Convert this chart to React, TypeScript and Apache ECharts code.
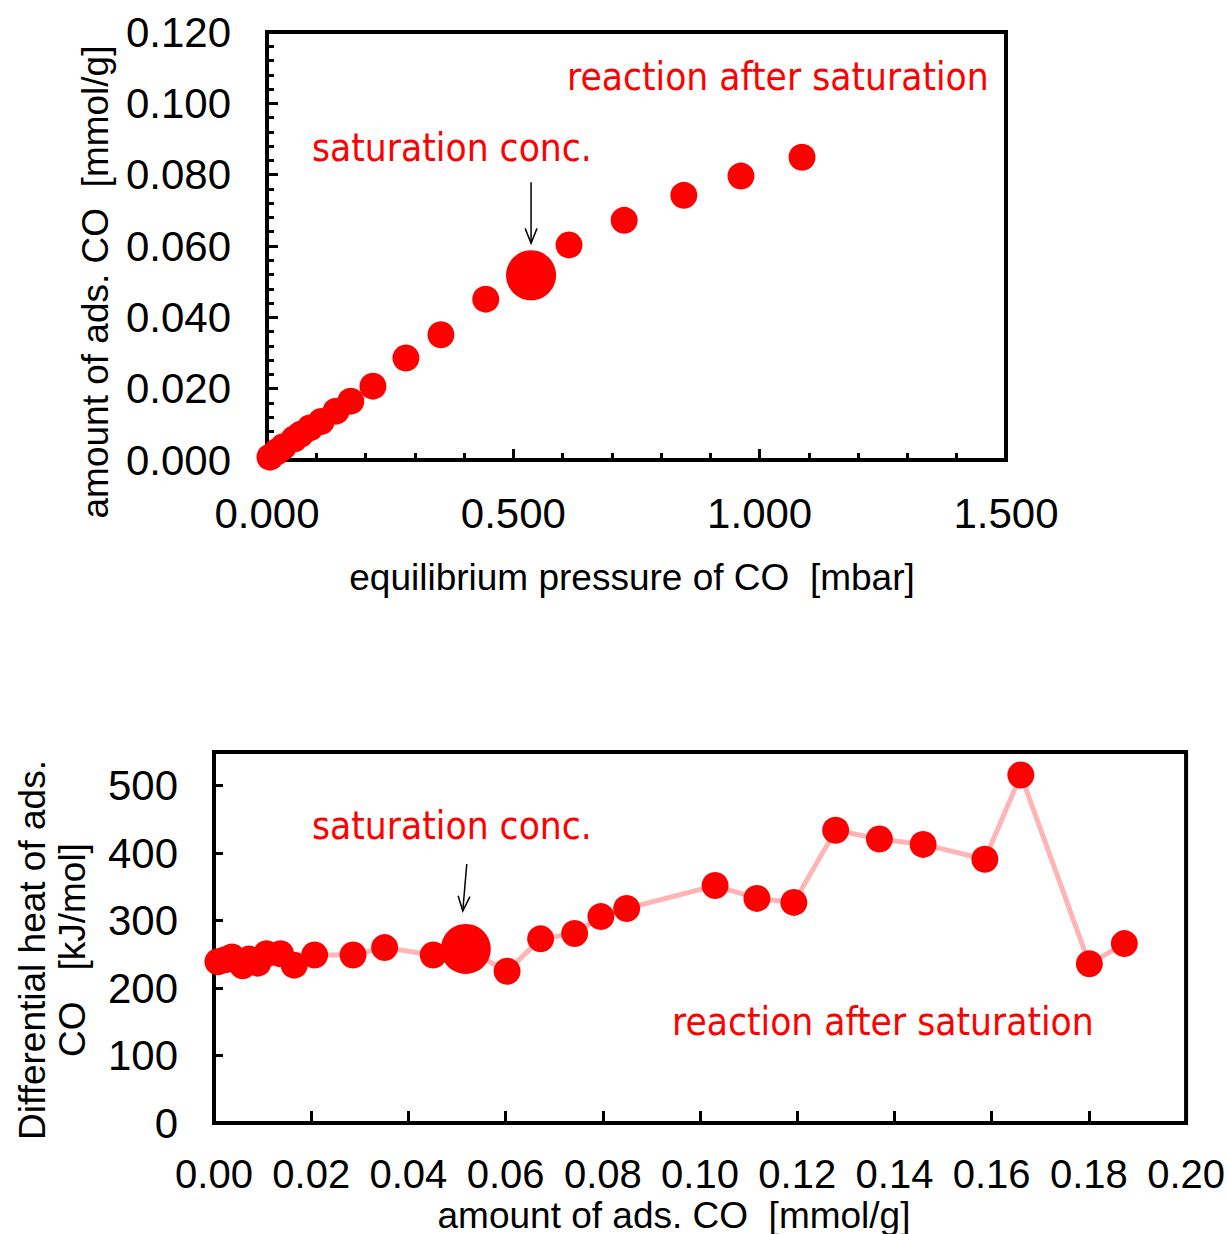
import React, { useEffect, useRef } from "react";
import * as echarts from "echarts";

// Equilibrium pressure of CO [mbar] (top chart, points up to 0.085 mmol/g)
const pressure = [0.006, 0.02, 0.033, 0.055, 0.068, 0.087, 0.11, 0.14, 0.17, 0.215, 0.282, 0.353, 0.444, 0.536, 0.613, 0.725, 0.846, 0.962, 1.086];
// Amount of adsorbed CO [mmol/g]
const adsorbed = [0.0008, 0.0023, 0.0037, 0.0059, 0.0072, 0.009, 0.0108, 0.0137, 0.0165, 0.0207, 0.0286, 0.0351, 0.0451, 0.0518, 0.0603, 0.0672, 0.0742, 0.0796, 0.0849, 0.1031, 0.1117, 0.1193, 0.1279, 0.1369, 0.1459, 0.1586, 0.166, 0.1801, 0.1873];
// Differential heat of adsorption [kJ/mol]
const heat = [239, 242, 246, 233, 243, 237, 251, 251, 234, 249, 249, 260, 249, 258, 225, 273, 281, 306, 318, 352, 333, 327, 434, 421, 413, 391, 516, 236, 266];
const saturationIndex = 13;

const topXTicks = { min: 0, max: 1.5, interval: 0.5 };
const topYTicks = { min: 0, max: 0.12, interval: 0.02 };
const botXTicks = { min: 0, max: 0.2, interval: 0.02 };
const botYTicks = { min: 0, max: 550, interval: 100 };

const FONT = "Liberation Sans, Arial, sans-serif";
const NARROW = "'Liberation Sans Narrow', 'DejaVu Sans Condensed', sans-serif";

export default function App() {
  const ref = useRef<HTMLDivElement>(null);
  useEffect(() => {
    document.body.style.margin = "0";
    const chart = echarts.init(ref.current!, undefined, { renderer: "svg" });
    const topData = pressure.map((p, i) => [p, adsorbed[i]]);
    const botData = heat.map((h, i) => [adsorbed[i], h]);
    const sizeFn = (_v: any, params: any) => (params.dataIndex === saturationIndex ? 50 : 27);
    const axisLine = { show: true, lineStyle: { color: "#000", width: 4 } };
    const labelStyle = { color: "#000", fontFamily: FONT, fontSize: 42 };
    const option: any = {
      animation: false,
      grid: [
        { left: 267, top: 32, width: 739, height: 428, show: true, borderColor: "#000", borderWidth: 4, backgroundColor: "transparent" },
        { left: 214, top: 752, width: 975, height: 371, show: true, borderColor: "#000", borderWidth: 4, backgroundColor: "transparent" },
      ],
      xAxis: [
        {
          gridIndex: 0, type: "value", ...topXTicks,
          axisLine, splitLine: { show: false },
          axisTick: { show: true, inside: true, length: 11, lineStyle: { width: 3, color: "#000" } },
          minorTick: { show: true, splitNumber: 5, length: 7, lineStyle: { width: 3, color: "#000" } },
          axisLabel: { ...labelStyle, margin: 32, formatter: (v: number) => v.toFixed(3) },
        },
        {
          gridIndex: 1, type: "value", ...botXTicks,
          axisLine, splitLine: { show: false },
          axisTick: { show: true, inside: true, length: 12, lineStyle: { width: 3, color: "#000" } },
          axisLabel: { ...labelStyle, fontSize: 40, margin: 31, formatter: (v: number) => v.toFixed(2) },
        },
      ],
      yAxis: [
        {
          gridIndex: 0, type: "value", ...topYTicks,
          axisLine, splitLine: { show: false },
          axisTick: { show: true, inside: true, length: 11, lineStyle: { width: 3, color: "#000" } },
          minorTick: { show: true, splitNumber: 5, length: 7, lineStyle: { width: 3, color: "#000" } },
          axisLabel: { ...labelStyle, margin: 36, formatter: (v: number) => v.toFixed(3) },
        },
        {
          gridIndex: 1, type: "value", ...botYTicks,
          axisLine, splitLine: { show: false },
          axisTick: { show: true, inside: true, length: 9, lineStyle: { width: 3, color: "#000" } },
          axisLabel: { ...labelStyle, margin: 36, showMaxLabel: false },
        },
      ],
      series: [
        {
          type: "scatter", xAxisIndex: 0, yAxisIndex: 0, data: topData,
          symbol: "circle", symbolSize: sizeFn, itemStyle: { color: "#FF0000", opacity: 1 },
        },
        {
          type: "line", xAxisIndex: 1, yAxisIndex: 1, data: botData,
          symbol: "circle", symbolSize: sizeFn, showAllSymbol: true,
          lineStyle: { color: "#FFB5B5", width: 5 },
          itemStyle: { color: "#FF0000", opacity: 1 },
        },
      ],
    };
    chart.setOption(option);

    const topSat = chart.convertToPixel({ gridIndex: 0 }, topData[saturationIndex]) as number[];
    const botSat = chart.convertToPixel({ gridIndex: 1 }, botData[saturationIndex]) as number[];
    const arrow = (tx: number, ty: number, sx: number, sy: number) => {
      const ang = Math.atan2(ty - sy, tx - sx);
      const hl = 16, ha = 0.38;
      return [
        { type: "line", shape: { x1: sx, y1: sy, x2: tx, y2: ty }, style: { stroke: "#000", lineWidth: 1.5 } },
        {
          type: "polyline",
          shape: { points: [
            [tx - hl * Math.cos(ang - ha), ty - hl * Math.sin(ang - ha)],
            [tx, ty],
            [tx - hl * Math.cos(ang + ha), ty - hl * Math.sin(ang + ha)],
          ] },
          style: { stroke: "#000", lineWidth: 1.5, fill: "none" },
        },
      ];
    };
    const redText = (x: number, y: number, text: string) => ({
      type: "text", x, y,
      style: { text, fill: "#FF0000", font: `38.5px ${NARROW}`, align: "left", verticalAlign: "middle" },
    });
    const titleText = (x: number, y: number, text: string, rot = 0, size = 37) => ({
      type: "text", x, y, rotation: rot,
      style: { text, fill: "#000", font: `${size}px ${FONT}`, align: "center", verticalAlign: "middle", lineHeight: 40 },
    });
    chart.setOption({
      graphic: [
        redText(567, 76, "reaction after saturation"),
        redText(312, 147, "saturation conc."),
        redText(312, 825, "saturation conc."),
        redText(672, 1021, "reaction after saturation"),
        ...arrow(topSat[0], topSat[1] - 32, topSat[0], topSat[1] - 93),
        ...arrow(botSat[0] - 3, botSat[1] - 38, botSat[0] + 1, botSat[1] - 85),
        titleText(632, 577, "equilibrium pressure of CO  [mbar]"),
        titleText(95, 282, "amount of ads. CO  [mmol/g]", Math.PI / 2),
        titleText(52, 950, "Differential heat of ads.\nCO   [kJ/mol]", Math.PI / 2, 37),
        titleText(674, 1215, "amount of ads. CO  [mmol/g]", 0, 37),
      ],
    });
    return () => chart.dispose();
  }, []);
  return <div ref={ref} style={{ width: 1228, height: 1234 }} />;
}
